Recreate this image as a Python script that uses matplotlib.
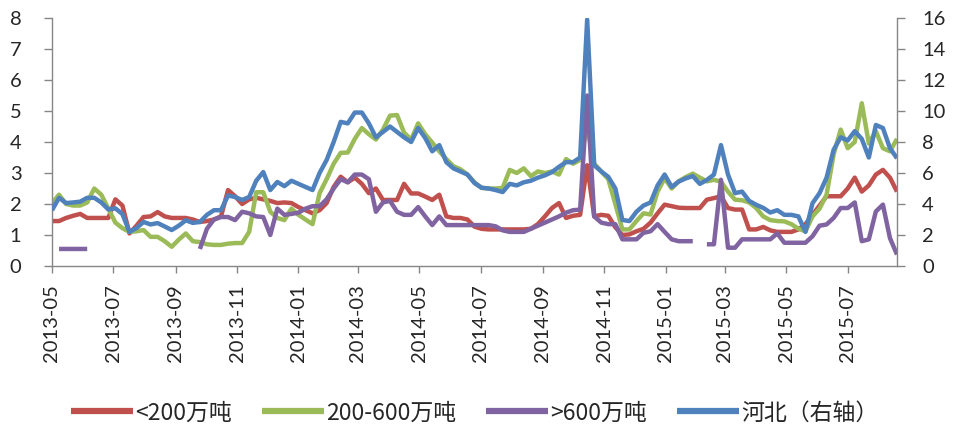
import numpy as np
import pandas as pd
import matplotlib
matplotlib.use("Agg")
import matplotlib.pyplot as plt
import matplotlib.dates as mdates

nan = np.nan

# weekly observations starting 2013-05-01
start_date = "2013-05-01"
n_weeks = 121

small_lt200 = [1.45, 1.45, 1.55, 1.62, 1.68, 1.55, 1.55, 1.55, 1.55, 2.15,
               1.95, 1.05, 1.3, 1.58, 1.6, 1.74, 1.6, 1.55, 1.55, 1.55,
               1.5, 1.42, 1.45, 1.5, 1.6, 2.45, 2.25, 2.0, 2.15, 2.2,
               2.15, 2.1, 2.03, 2.05, 2.03, 1.9, 1.8, 1.7, 1.8, 2.03,
               2.55, 2.88, 2.7, 2.85, 2.65, 2.35, 2.5, 2.13, 2.13, 2.13,
               2.65, 2.34, 2.34, 2.24, 2.13, 2.3, 1.6, 1.55, 1.55, 1.5,
               1.27, 1.2, 1.18, 1.18, 1.18, 1.18, 1.18, 1.18, 1.2, 1.35,
               1.6, 1.87, 2.03, 1.55, 1.62, 1.65, 3.25, 1.6, 1.65, 1.62,
               1.25, 1.0, 1.02, 1.12, 1.2, 1.4, 1.7, 1.98, 1.93, 1.88,
               1.87, 1.87, 1.87, 2.14, 2.19, 2.25, 1.87, 1.82, 1.82, 1.18,
               1.18, 1.26, 1.15, 1.1, 1.1, 1.1, 1.18, 1.35, 1.65, 1.95,
               2.25, 2.25, 2.25, 2.5, 2.85, 2.4, 2.6, 2.95, 3.1, 2.85,
               2.4]

mid_200_600 = [2.03, 2.3, 2.0, 1.95, 1.95, 2.05, 2.5, 2.3, 1.85, 1.4,
               1.22, 1.1, 1.12, 1.16, 0.94, 0.94, 0.8, 0.62, 0.85, 1.05,
               0.8, 0.77, 0.7, 0.68, 0.68, 0.72, 0.74, 0.74, 1.1, 2.38,
               2.38, 1.75, 1.55, 1.48, 1.85, 1.65, 1.5, 1.35, 2.35, 2.8,
               3.3, 3.65, 3.66, 4.1, 4.45, 4.25, 4.08, 4.4, 4.85, 4.87,
               4.3, 4.08, 4.6, 4.25, 3.98, 3.7, 3.45, 3.22, 3.12, 2.95,
               2.7, 2.52, 2.5, 2.5, 2.52, 3.1, 3.0, 3.15, 2.9, 3.05,
               3.0, 3.05, 2.95, 3.45, 3.3, 3.42, 4.5, 3.3, 3.05, 2.8,
               2.0, 1.18, 1.18, 1.45, 1.7, 1.66, 2.4, 2.83, 2.5, 2.73,
               2.87, 2.98, 2.85, 2.73, 2.78, 2.72, 2.4, 2.14, 2.12, 2.05,
               1.87, 1.6, 1.48, 1.45, 1.44, 1.35, 1.2, 1.12, 1.6, 1.85,
               2.3, 3.6, 4.4, 3.8, 4.0, 5.25, 3.95, 4.35, 3.8, 3.7,
               4.1]

large_gt600 = [nan, 0.55, 0.55, 0.55, 0.55, 0.55, nan, nan, nan, nan,
               nan, nan, nan, nan, nan, nan, nan, nan, nan, nan,
               nan, 0.55, 1.2, 1.5, 1.58, 1.58, 1.48, 1.75, 1.7, 1.6,
               1.58, 1.0, 1.85, 1.65, 1.68, 1.72, 1.85, 1.93, 1.93, 2.15,
               2.5, 2.8, 2.7, 2.95, 2.95, 2.8, 1.75, 2.05, 2.1, 1.75,
               1.65, 1.65, 1.9, 1.6, 1.32, 1.6, 1.32, 1.32, 1.32, 1.32,
               1.32, 1.32, 1.32, 1.28, 1.15, 1.1, 1.1, 1.1, 1.2, 1.3,
               1.4, 1.5, 1.6, 1.72, 1.8, 1.82, 5.5, 1.6, 1.4, 1.35,
               1.35, 0.86, 0.86, 0.86, 1.07, 1.12, 1.35, 1.1, 0.86, 0.8,
               0.8, 0.8, nan, 0.7, 0.7, 2.78, 0.59, 0.59, 0.86, 0.86,
               0.86, 0.86, 0.86, 1.05, 0.75, 0.75, 0.75, 0.75, 0.96, 1.3,
               1.34, 1.55, 1.87, 1.87, 2.05, 0.8, 0.86, 1.76, 1.98, 0.9,
               0.37]

hebei_right = [3.6, 4.4, 4.06, 4.1, 4.15, 4.4, 4.4, 4.1, 3.65, 3.72,
               3.35, 2.2, 2.45, 2.84, 2.68, 2.77, 2.55, 2.32, 2.6, 2.95,
               2.78, 2.84, 3.3, 3.6, 3.6, 4.55, 4.45, 4.26, 4.45, 5.5,
               6.06, 4.9, 5.42, 5.15, 5.5, 5.3, 5.1, 4.9, 6.0, 6.84,
               8.0, 9.3, 9.2, 9.9, 9.9, 9.2, 8.3, 8.65, 9.0, 8.65,
               8.3, 8.0, 8.9, 8.26, 7.4, 7.8, 6.7, 6.3, 6.1, 5.9,
               5.35, 5.05, 5.0, 4.9, 4.77, 5.3, 5.2, 5.4, 5.5, 5.7,
               5.85, 6.06, 6.4, 6.7, 6.7, 7.0, 15.9, 6.5, 6.1, 5.75,
               5.0, 2.97, 2.9, 3.5, 3.9, 4.1, 5.2, 5.9, 5.1, 5.45,
               5.65, 5.8, 5.3, 5.55, 5.9, 7.8, 5.9, 4.7, 4.8, 4.2,
               3.95, 3.75, 3.45, 3.6, 3.3, 3.3, 3.2, 2.2, 4.05, 4.7,
               5.7, 7.5, 8.3, 8.1, 8.7, 8.2, 7.0, 9.1, 8.9, 7.6,
               6.95]

labels = ["<200万吨", "200-600万吨", ">600万吨", "河北（右轴）"]
colors = ["#C0504D", "#9BBB59", "#8064A2", "#4F81BD"]

dates = pd.date_range(start_date, periods=n_weeks, freq="7D")

num_font = ["Lato", "DejaVu Sans"]
cjk_font = ["Noto Sans CJK SC", "DejaVu Sans"]

fig = plt.figure(figsize=(9.55, 4.30), dpi=100)
ax = fig.add_axes([52/955, 1-266/430, (897-52)/955, (266-18)/430])
ax2 = ax.twinx()

lw = 3.2
lines = []
for vals, c, lab in zip([small_lt200, mid_200_600, large_gt600], colors[:3], labels[:3]):
    ln, = ax.plot(dates, vals, color=c, lw=lw, label=lab,
                  solid_joinstyle="round", solid_capstyle="butt")
    lines.append(ln)
ln, = ax2.plot(dates, hebei_right, color=colors[3], lw=lw, label=labels[3],
               solid_joinstyle="round", solid_capstyle="butt")
lines.append(ln)

ax.set_ylim(0, 8)
ax2.set_ylim(0, 16)
ax.set_yticks(np.arange(0, 9, 1))
ax2.set_yticks(np.arange(0, 17, 2))
ax.set_xlim(dates[0], dates[-1])

ax.xaxis.set_major_locator(mdates.MonthLocator(bymonth=[1, 3, 5, 7, 9, 11]))
ax.xaxis.set_major_formatter(mdates.DateFormatter("%Y-%m"))

spine_c = "#868686"
for a in (ax, ax2):
    a.spines["top"].set_visible(False)
    for s in ("left", "right", "bottom"):
        a.spines[s].set_color(spine_c)
        a.spines[s].set_linewidth(1.0)
ax.spines["right"].set_visible(False)
ax2.spines["left"].set_visible(False)
ax2.spines["bottom"].set_visible(False)

ax.tick_params(axis="y", direction="out", length=6, width=1, color=spine_c,
               pad=16, labelsize=14.5, labelcolor="#262626")
ax2.tick_params(axis="y", direction="out", length=6, width=1, color=spine_c,
                pad=12, labelsize=14.5, labelcolor="#262626")
ax.tick_params(axis="x", direction="out", length=5, width=1, color=spine_c,
               pad=8, labelsize=14.5, labelcolor="#262626", labelrotation=90)
for t in ax.get_xticklabels() + ax.get_yticklabels() + ax2.get_yticklabels():
    t.set_fontfamily(num_font)

leg = fig.legend(lines, labels, loc="center", bbox_to_anchor=(0.497, 0.04),
                 ncol=4, frameon=False, handlelength=2.7, handletextpad=0.1,
                 columnspacing=1.3, prop={"family": cjk_font, "size": 16.5})
for h in leg.legend_handles:
    h.set_linewidth(4.5)
for t in leg.get_texts():
    t.set_color("#262626")

fig.savefig("out.png", dpi=100, facecolor="white")
